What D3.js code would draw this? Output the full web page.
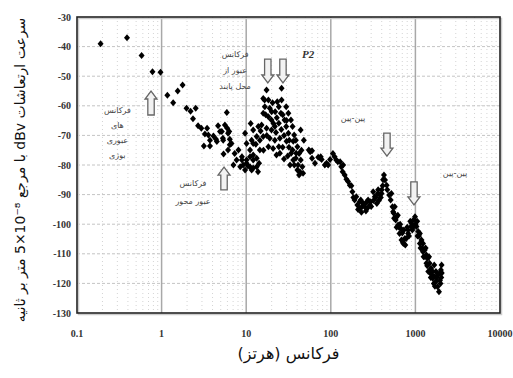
<!DOCTYPE html>
<html>
<head>
<meta charset="utf-8">
<script src="https://cdn.jsdelivr.net/npm/d3@7"></script>
<style>
  html, body { margin: 0; padding: 0; background: #fff; }
  svg { display: block; }
</style>
</head>
<body>
<svg id="chart" width="513" height="378"></svg>
<script>
// --- data: [frequency Hz, level dBv] ---
const bogiePoints = [[0.19, -39], [0.39, -37], [0.58, -43], [0.78, -48.5], [0.97, -48.7]];

const axlePoints = [
  [1.17, -56.4], [1.37, -59], [1.55, -55], [1.77, -53], [1.97, -60.8], [2.2, -61.8],
  [2.53, -60.8], [2.35, -64.4], [2.7, -66.7], [2.95, -67.6], [3.45, -67.6], [3.25, -69.5],
  [3.73, -71.6], [4.1, -70.2], [4.65, -66.7], [5.15, -68.7], [5.3, -71], [5.9, -62.3],
  [5.97, -67.6], [6.3, -68.7], [6.4, -71.3], [3.16, -73.6], [3.73, -73.6], [4.4, -71.3],
  [5.4, -76.3], [6.4, -73.2], [3.57, -69.9], [4.5, -72.1], [4.9, -68.7], [5.6, -66.5],
  [6.1, -69.3], [5.35, -71.6], [6.7, -72.7], [6.1, -74.9], [7.3, -76.1], [8.1, -74.9],
  [7.7, -78.3], [8.9, -77.2], [7.06, -80], [8.5, -80.6], [8.9, -78.3], [9.7, -69.3],
  [9.2, -80], [9.7, -81.7], [11.3, -66]
];

const fastenerPoints = [
  [10.1, -72.7], [11.1, -74.9], [12.1, -72.7], [13.3, -70.4], [11.1, -77.2], [12.1, -78.3],
  [13.9, -67], [10.5, -80.3], [13.3, -80.6], [10.1, -79.4], [12.1, -76.6], [11.6, -71.6],
  [12.1, -68.2], [10.1, -78.3], [11.1, -80.6], [11.6, -81.7], [13.3, -77.7], [14.2, -79.4],
  [14.5, -74.9], [14.5, -71.6], [15.9, -70.4], [15.2, -66.5], [17.4, -54.7], [15.9, -57.5],
  [18.3, -58], [16.6, -60.3], [19, -60.8], [15.9, -62.5], [18.3, -63.7], [19.9, -64.8],
  [17.4, -67.6], [19.9, -68.2], [21.8, -67], [19, -71], [21.8, -71.6], [20.8, -74.4],
  [18.3, -73.8], [24.3, -73.8], [22.8, -76.6], [26.2, -54.1], [23.3, -58.6], [26.2, -58],
  [24.3, -60.3], [29.7, -60.3], [25.7, -62.5], [31.5, -62.5], [28.4, -64.8], [33.8, -64.8],
  [24.3, -65.9], [29.7, -67], [35.3, -67], [31.5, -69.3], [36.9, -69.9], [32.3, -71.6],
  [38.6, -71.6], [40.3, -73.8], [35.3, -74.9], [42.2, -76.1], [38.6, -77.7], [44.1, -78.3],
  [40.3, -81.7], [46.1, -80.6], [42.2, -83.4], [55, -74.9], [60, -77.7], [76, -77.2],
  [89, -79.4], [48, -71.6], [44, -68.2], [36, -78.3], [41, -80], [47, -82.8], [43, -82.3],
  [57, -75.5], [65, -79.4], [75, -77.7], [85, -80], [93, -80], [60, -75.2], [71, -77.4],
  [78, -78.1], [20.5, -59], [22, -62], [17, -63], [23, -64], [27, -63], [30, -65],
  [21, -66], [26, -68], [28, -70], [30, -72], [27, -74], [25, -71], [32, -74], [34, -76],
  [36, -72], [16.5, -58], [20, -62], [14.8, -68.5], [13, -73], [16, -75], [17.5, -70],
  [22.5, -69], [25, -76], [28, -78], [31, -77], [33, -80], [37, -80], [39, -76], [45, -75],
  [12.1, -81], [13.8, -82.3]
];

const pinPoints = [
  [98, -78.1], [106, -76.1], [111, -77.2], [116, -78.3], [121, -78.9], [129, -78.9],
  [133, -80.6], [138, -82.3], [146, -83.4], [153, -84.8], [160, -85.6], [168, -86.8],
  [180, -89], [191, -91.8], [200, -90.7], [206, -93.5], [220, -92.4], [226, -91.8],
  [241, -92.9], [220, -94.6], [245, -93.5], [252, -94.1], [270, -94.6], [276, -91.8],
  [289, -93.5], [296, -92.4], [317, -89], [331, -90.7], [360, -89.6], [363, -88.4],
  [380, -90.1], [398, -89.6], [400, -88.4], [425, -83.4], [437, -85.1], [457, -86.8],
  [465, -88.4], [490, -90.1], [510, -91.8], [520, -89.6], [536, -94.1], [545, -95.8],
  [555, -96.3], [570, -94.1], [585, -98.6], [600, -97.5], [625, -100.3], [650, -103.1],
  [685, -101.7], [685, -105.3], [720, -106.5], [750, -104.8], [780, -104.8], [820, -102],
  [820, -103.1], [890, -100.8], [900, -99.7], [960, -98.4], [1030, -100.8], [1080, -102.5],
  [1130, -103.1], [1130, -106.5], [1180, -105.3], [1230, -106.5], [1230, -109.3], [1290, -108.7],
  [1350, -110.4], [1350, -113.2], [1400, -111.5], [1470, -113.2], [1470, -116], [1530, -114.9],
  [1600, -116], [1600, -118.3], [1670, -117.7], [1670, -113.8], [1750, -119.4], [1750, -116],
  [1830, -121.1], [1900, -122.8], [1940, -116.6], [2000, -115.5], [2040, -113.8],
  [210, -95], [230, -96], [260, -95.5], [300, -94], [340, -91], [350, -93], [390, -91],
  [410, -87], [415, -85], [560, -98], [620, -97], [640, -101], [700, -103], [730, -102],
  [800, -101], [870, -99], [940, -101], [1000, -100], [1060, -104], [1100, -104],
  [1200, -108], [1300, -111], [1380, -114], [1450, -111], [1550, -117], [1650, -120],
  [1800, -118], [1950, -119], [2050, -116.5], [1980, -120],
  [140, -80], [175, -87], [185, -91], [235, -94], [265, -92.5], [320, -92], [370, -92],
  [600, -101], [660, -100], [710, -106], [760, -107], [840, -104], [920, -102],
  [990, -97.5], [1050, -99], [1150, -108], [1250, -111], [1320, -108], [1420, -116],
  [1520, -118], [1700, -121], [1850, -117], [2020, -118]
];

const xTicks = [0.1, 1, 10, 100, 1000, 10000];
const xTickLabels = ['0.1', '1', '10', '100', '1000', '10000'];
const yTicks = [-30, -40, -50, -60, -70, -80, -90, -100, -110, -120, -130];

// arrows: [frequency, tail dBv, tip dBv]
const arrows = [
  [0.75, -63.1, -55], [5.47, -88.4, -80.7],
  [18, -44.2, -52.3], [27.2, -44.2, -52.3],
  [461, -69.2, -77], [962, -85.7, -93.5]
];

// text notes: [frequency, dBv, line gap, lines]
const notes = [
  [0.30, -61.4, 15, ['فرکانس', 'های', 'عبوری', 'بوژی']],
  [7.4, -42.5, 16, ['فرکانس', 'عبور از', 'محل پابند']],
  [2.35, -86.1, 18, ['فرکانس', 'عبور محور']],
  [183, -64.1, 0, ['پین-پین']],
  [2940, -82.7, 0, ['پین-پین']]
];

const xTitle = 'فرکانس (هرتز)';
const yTitle = 'سرعت ارتعاشات dBv با مرجع \u202A5×10⁻⁸\u202C متر بر ثانیه';

// --- layout ---
const svg = d3.select('#chart');
const mLeft = 77, mTop = 17, mRight = 500, mBottom = 313;

const x = d3.scaleLog().domain([0.1, 10000]).range([mLeft, mRight]);
const y = d3.scaleLinear().domain([-130, -30]).range([mBottom, mTop]);

// minor vertical grid (2..9 of each decade)
const minor = [];
for (let d = 0.1; d < 10000; d *= 10) {
  for (let k = 2; k <= 9; k++) minor.push(d * k);
}
svg.append('g').selectAll('line')
  .data(minor)
  .enter().append('line')
  .attr('x1', d => x(d)).attr('x2', d => x(d))
  .attr('y1', mTop).attr('y2', mBottom)
  .attr('stroke', '#d4d4d4')
  .attr('stroke-width', 1)
  .attr('stroke-dasharray', '1,3');

// horizontal dashed grid
svg.append('g').selectAll('line')
  .data(yTicks.slice(1, -1))
  .enter().append('line')
  .attr('x1', mLeft).attr('x2', mRight)
  .attr('y1', d => y(d)).attr('y2', d => y(d))
  .attr('stroke', '#c4c4c4')
  .attr('stroke-width', 1)
  .attr('stroke-dasharray', '3,2');

// major vertical grid (decades)
svg.append('g').selectAll('line')
  .data(xTicks.slice(1, -1))
  .enter().append('line')
  .attr('x1', d => x(d)).attr('x2', d => x(d))
  .attr('y1', mTop).attr('y2', mBottom)
  .attr('stroke', '#a8a8a8')
  .attr('stroke-width', 1.5);

// frame with a faint shadow
svg.append('rect')
  .attr('x', mLeft + 1.5).attr('y', mTop + 1.5)
  .attr('width', mRight - mLeft).attr('height', mBottom - mTop)
  .attr('fill', 'none')
  .attr('stroke', '#ccc')
  .attr('stroke-width', 1.5);
svg.append('rect')
  .attr('x', mLeft).attr('y', mTop)
  .attr('width', mRight - mLeft).attr('height', mBottom - mTop)
  .attr('fill', 'none')
  .attr('stroke', '#222')
  .attr('stroke-width', 1.6);

// tick labels
svg.append('g').selectAll('text')
  .data(yTicks)
  .enter().append('text')
  .attr('x', mLeft - 6)
  .attr('y', d => y(d) + 3.5)
  .attr('text-anchor', 'end')
  .style('font-family', '"Liberation Serif", serif')
  .style('font-weight', 'bold')
  .style('font-size', '10px')
  .style('fill', '#333')
  .text(d => d);

svg.append('g').selectAll('text')
  .data(xTicks)
  .enter().append('text')
  .attr('x', d => x(d))
  .attr('y', 337)
  .attr('text-anchor', 'middle')
  .style('font-family', '"Liberation Serif", serif')
  .style('font-weight', 'bold')
  .style('font-size', '10px')
  .style('fill', '#333')
  .text((d, i) => xTickLabels[i]);

// axis titles
svg.append('text')
  .attr('x', (mLeft + mRight) / 2)
  .attr('y', 359)
  .attr('text-anchor', 'middle')
  .attr('direction', 'rtl')
  .style('font-family', '"DejaVu Sans", sans-serif')
  .style('font-size', '16px')
  .style('fill', '#111')
  .text(xTitle);

svg.append('text')
  .attr('transform', 'translate(25,170) rotate(-90)')
  .attr('text-anchor', 'middle')
  .attr('direction', 'rtl')
  .style('font-family', '"DejaVu Sans", sans-serif')
  .style('font-size', '14px')
  .style('fill', '#111')
  .text(yTitle);

// arrows
const arrowPath = (a) => {
  const cx = x(a[0]), tail = y(a[1]), tip = y(a[2]);
  const s = tip > tail ? 1 : -1;           // 1 = pointing down
  const neck = tip - s * 8, w = 3.2, hw = 6;
  return `M${cx - w},${tail}L${cx + w},${tail}L${cx + w},${neck}L${cx + hw},${neck}` +
    `L${cx},${tip}L${cx - hw},${neck}L${cx - w},${neck}Z`;
};
svg.append('g').selectAll('path')
  .data(arrows)
  .enter().append('path')
  .attr('d', arrowPath)
  .attr('fill', '#f2f2f2')
  .attr('stroke', '#666')
  .attr('stroke-width', 1.3);

// scatter points (black diamonds)
const allPoints = [].concat(bogiePoints, axlePoints, fastenerPoints, pinPoints);
svg.append('g').selectAll('path')
  .data(allPoints)
  .enter().append('path')
  .attr('d', 'M0,-3.5L3,0L0,3.5L-3,0Z')
  .attr('transform', d => `translate(${x(d[0])},${y(d[1])})`)
  .attr('fill', '#000');

// notes
notes.forEach(n => {
  const t = svg.append('text')
    .attr('text-anchor', 'middle')
    .attr('direction', 'rtl')
    .style('font-family', '"DejaVu Sans", sans-serif')
    .style('font-size', '8px')
    .style('fill', '#444');
  n[3].forEach((line, i) => {
    t.append('tspan')
      .attr('x', x(n[0]))
      .attr('y', y(n[1]) + 3 + i * n[2])
      .text(line);
  });
});

svg.append('text')
  .attr('x', x(54))
  .attr('y', y(-44))
  .attr('text-anchor', 'middle')
  .style('font-family', '"Liberation Serif", serif')
  .style('font-weight', 'bold')
  .style('font-style', 'italic')
  .style('font-size', '11px')
  .style('fill', '#333')
  .text('P2');
</script>
</body>
</html>
